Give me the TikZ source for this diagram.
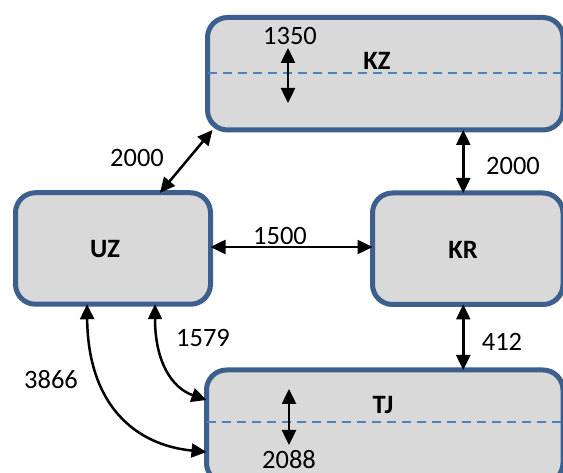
\documentclass[tikz,border=0pt]{standalone}
\usepackage{fontspec}
\setmainfont{Carlito}
\usetikzlibrary{arrows.meta,calc}
\definecolor{boxline}{HTML}{3D5F8E}
\definecolor{boxfill}{HTML}{D9D9D9}
\definecolor{midline}{HTML}{4F81BD}
\begin{document}
\begin{tikzpicture}[x=1pt,y=-1pt,
  region/.style={draw=boxline,fill=boxfill,line width=5pt,rounded corners=20pt,
    inner sep=0pt,outer sep=0pt},
  tag/.style={font=\fontsize{26.5}{30}\selectfont\bfseries,inner sep=0pt},
  num/.style={font=\fontsize{26.5}{30}\selectfont,inner sep=0pt},
  link/.style={line width=2.5pt,{Triangle[length=15pt,width=14pt]}-{Triangle[length=15pt,width=14pt]}},
  divider/.style={draw=midline,line width=1.6pt,dash pattern=on 9pt off 6pt}]
\useasboundingbox (0,0) rectangle (563,473);
\clip (0,0) rectangle (563,473);

% regions
\node[region,minimum width=355.5pt,minimum height=112.5pt] (KZ) at (385.25,73.75) {};
\node[region,minimum width=195pt,minimum height=111.5pt] (UZ) at (113,248.5) {};
\node[region,minimum width=190.5pt,minimum height=111.5pt] (KR) at (467.75,248.75) {};
\node[region,minimum width=356.5pt,minimum height=113pt] (TJ) at (384.75,426.5) {};

% dashed level lines inside KZ and TJ
\draw[divider] (KZ.west |- 0,73) -- (KZ.east |- 0,73);
\draw[divider] (TJ.west |- 0,422) -- (TJ.east |- 0,422);

% names
\node[tag] (kzname) at (377,61) {KZ};
\node[tag] (uzname) at (105,249) {UZ};
\node[tag] (krname) at (463,250) {KR};
\node[tag] (tjname) at (383,405) {TJ};

% internal ranges
\coordinate (kzA) at (288,48);
\coordinate (kzB) at (288,103);
\draw[link] (kzA) -- (kzB);
\coordinate (tjA) at (289,389);
\coordinate (tjB) at (289,445);
\draw[link] (tjA) -- (tjB);

% connections between regions
\draw[link] ([xshift=47pt]UZ.north) -- ($(KZ.south west)+(5,0)$);
\draw[link] (UZ.east |- 0,247) -- (KR.west |- 0,247);
\draw[link] ([xshift=-4.5pt]KR.north) -- ([xshift=-4.5pt]KR.north |- KZ.south);
\draw[link] ([xshift=-4.5pt]KR.south) -- ([xshift=-4.5pt]KR.south |- TJ.north);
\draw[link] ([xshift=42pt]UZ.south) .. controls (155,362) and (172,388) .. (TJ.west |- 0,400);
\draw[link] ([xshift=-26pt]UZ.south) .. controls (88,405) and (135,445) .. (TJ.west |- 0,452);

% values
\node[num] (v1350) at (290,36) {1350};
\node[num] (v2088) at (289,460) {2088};
\node[num] (v2000a) at (137,158) {2000};
\node[num] (v1500) at (280,236) {1500};
\node[num] (v2000b) at (513,166) {2000};
\node[num] (v412) at (502,342) {412};
\node[num] (v1579) at (203,338) {1579};
\node[num] (v3866) at (51,380) {3866};
\end{tikzpicture}
\end{document}
